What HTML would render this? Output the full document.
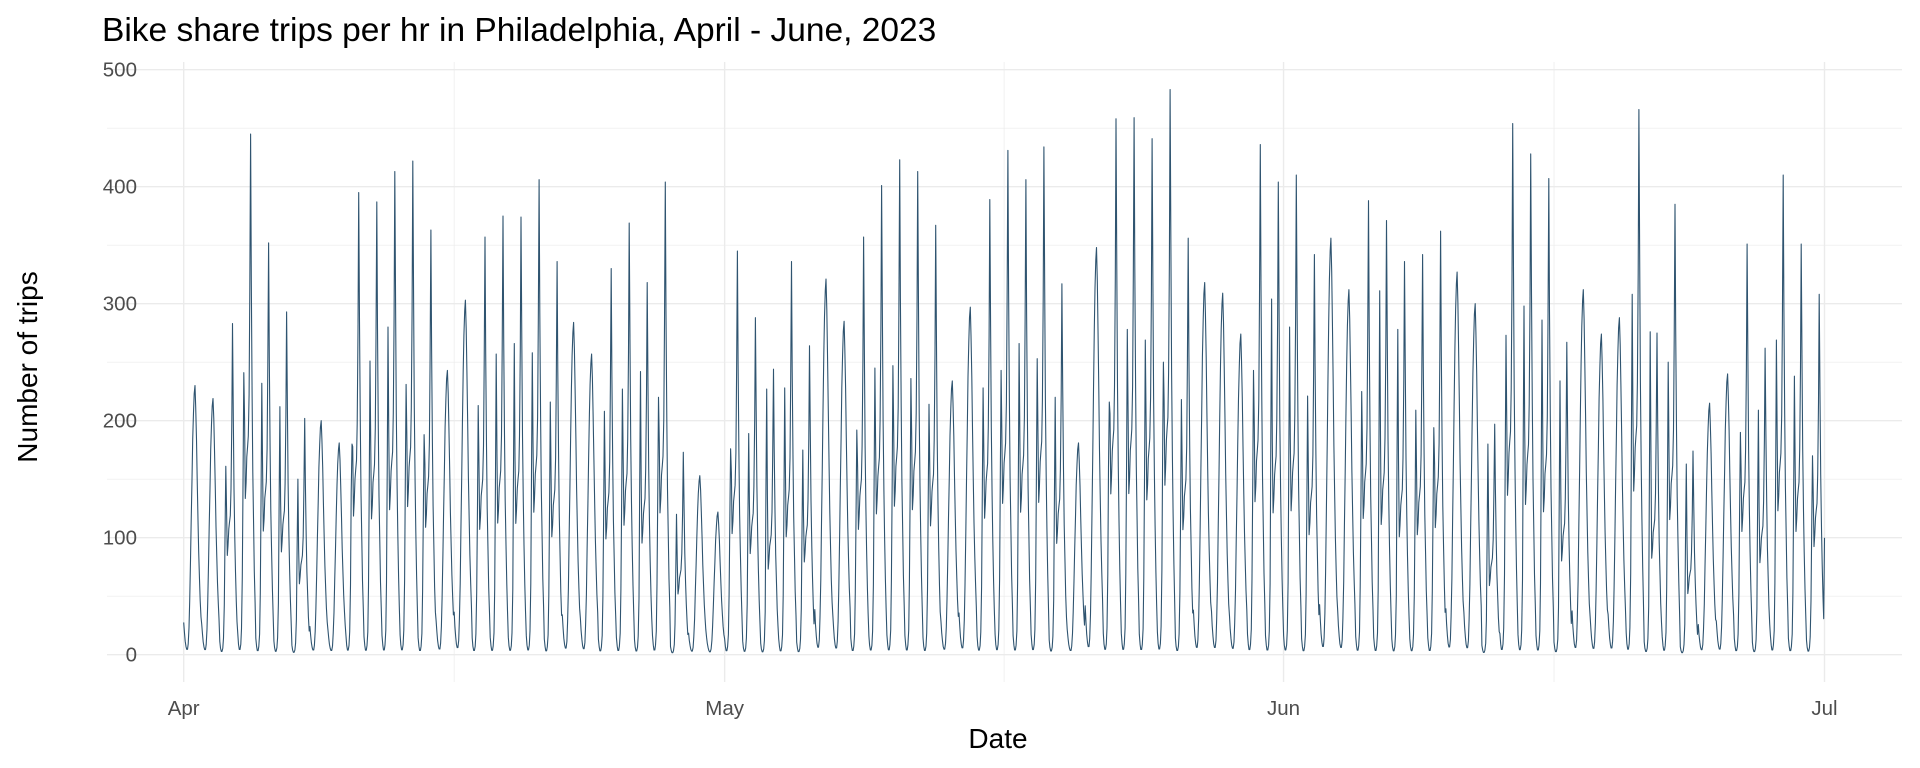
<!DOCTYPE html>
<html><head><meta charset="utf-8"><style>
html,body{margin:0;padding:0;background:#fff;}
svg{display:block;font-family:"Liberation Sans",Arial,sans-serif;}
</style></head><body>
<svg id="chart" width="1920" height="768" viewBox="0 0 1920 768" xmlns="http://www.w3.org/2000/svg">
<text x="102" y="41" font-size="33.5" fill="#000">Bike share trips per hr in Philadelphia, April - June, 2023</text>
<g id="grid"></g>
<g id="yticks"></g>
<g id="xticks"></g>
<path id="line" fill="none" stroke="#2f5470" stroke-width="1.1" stroke-linejoin="round"></path>
<text transform="translate(37,367) rotate(-90)" text-anchor="middle" font-size="28" fill="#000">Number of trips</text>
<text x="998" y="748" text-anchor="middle" font-size="28" fill="#000">Date</text>
</svg>
<script>
const yTicks = [0,100,200,300,400,500];
const xTickLabels = ["Apr","May","Jun","Jul"];
const xTickDays = [0,30,61,91];
// daily evening/overall peak
const dayPeak = [230,219,283,445,352,293,202,200,181,395,387,413,422,363,243,303,357,375,374,406,336,284,257,330,369,318,404,173,153,122,345,288,244,336,264,321,285,357,401,423,413,367,234,297,389,431,406,434,317,181,348,458,459,441,483,356,318,309,274,436,404,410,342,356,312,388,371,336,342,362,327,300,197,454,428,407,267,312,274,288,466,275,385,174,215,240,351,262,410,351,308];
// morning peak (0 = weekend-style day)
const dayAM = [0,0,161,241,232,212,150,0,0,180,251,280,231,188,0,0,213,257,266,258,216,0,0,208,227,242,220,120,0,0,176,189,227,228,175,0,0,192,245,247,236,214,0,0,228,243,266,253,220,0,0,216,278,269,250,218,0,0,0,243,304,280,221,0,0,225,311,278,209,194,0,0,180,273,298,286,234,0,0,0,308,276,250,163,0,0,190,209,269,238,170];
const endValue = 100;

const X0=183.7, X1=1824.5, Y0=654.7, Y500=69.7;
const xs = d => X0 + (X1-X0)*d/91;
const ys = v => Y0 + (Y500-Y0)*v/500;
const NS="http://www.w3.org/2000/svg";
const grid=document.getElementById('grid');
function ln(x1,y1,x2,y2,w){const l=document.createElementNS(NS,'line');l.setAttribute('x1',x1);l.setAttribute('y1',y1);l.setAttribute('x2',x2);l.setAttribute('y2',y2);l.setAttribute('stroke','#ebebeb');l.setAttribute('stroke-width',w);return l;}
const PX0=107, PX1=1902, PY0=62, PY1=682;
for(let v=0; v<=500; v+=50){
  const l=ln(PX0,ys(v),PX1,ys(v),v%100===0?1.4:0.7);
  
  
  grid.appendChild(l);}
for(let i=0;i<xTickDays.length;i++){
  const l=ln(xs(xTickDays[i]),PY0,xs(xTickDays[i]),PY1,1.4);
  
  
  grid.appendChild(l);
  if(i<xTickDays.length-1){const m=(xTickDays[i]+xTickDays[i+1])/2;
    const l2=ln(xs(m),PY0,xs(m),PY1,0.7);
    
    
    grid.appendChild(l2);}
}
const yg=document.getElementById('yticks');
yTicks.forEach(v=>{const t=document.createElementNS(NS,'text');t.setAttribute('x',137);t.setAttribute('y',ys(v)+7);t.setAttribute('text-anchor','end');t.setAttribute('font-size','20.5');t.setAttribute('fill','#4d4d4d');t.textContent=v;
  
  
  yg.appendChild(t);});
const xg=document.getElementById('xticks');
xTickLabels.forEach((s,i)=>{const t=document.createElementNS(NS,'text');t.setAttribute('x',xs(xTickDays[i]));t.setAttribute('y',715);t.setAttribute('text-anchor','middle');t.setAttribute('font-size','20.5');t.setAttribute('fill','#4d4d4d');t.textContent=s;
  
  
  xg.appendChild(t);});

// hourly profiles (fractions of peak)
const wkPM=[0.04,0.02,0.01,0.01,0.02,0.05,0.15,0.35,0,0.45,0.3,0.33,0.38,0.4,0.42,0.5,0.7,1,0.72,0.5,0.35,0.25,0.16,0.1];
const weHr=[0.12,0.08,0.05,0.03,0.02,0.02,0.04,0.1,0.2,0.35,0.5,0.65,0.8,0.9,0.97,1,0.92,0.8,0.65,0.5,0.38,0.28,0.2,0.14];
let pts=[];
for(let d=0; d<dayPeak.length; d++){
  for(let h=0;h<24;h++){
    let v;
    if(dayAM[d]>0){ v = h===8 ? dayAM[d] : dayPeak[d]*wkPM[h]; if(h===7||h===9) v=Math.max(v,dayAM[d]*0.6);}
    else v = dayPeak[d]*weHr[h];
    pts.push([xs(d+h/24), ys(Math.max(v,1))]);
  }
}
pts.push([xs(dayPeak.length), ys(endValue)]);
document.getElementById('line').setAttribute('d','M'+pts.map(p=>p[0].toFixed(1)+','+p[1].toFixed(1)).join('L'));
</script>
</body></html>
